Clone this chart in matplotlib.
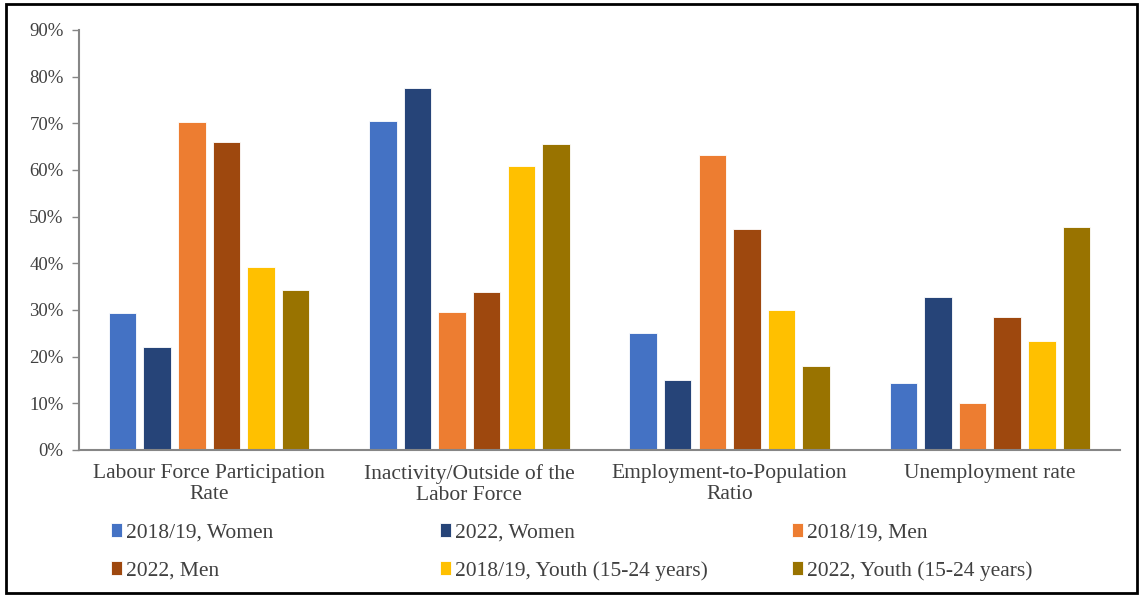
import numpy as np
import matplotlib
matplotlib.use('Agg')
import matplotlib.pyplot as plt
from matplotlib.patches import Rectangle
from matplotlib.ticker import PercentFormatter

categories = ['Labour Force Participation\nRate', 'Inactivity/Outside of the\nLabor Force',
              'Employment-to-Population\nRatio', 'Unemployment rate']
series_names = ['2018/19, Women', '2022, Women', '2018/19, Men',
                '2022, Men', '2018/19, Youth (15-24 years)', '2022, Youth (15-24 years)']
women_1819 = [29.3, 70.6, 25.1, 14.3]
women_2022 = [22.1, 77.6, 15.0, 32.7]
men_1819 = [70.2, 29.6, 63.3, 10.1]
men_2022 = [66.1, 33.9, 47.3, 28.4]
youth_1819 = [39.2, 60.8, 30.0, 23.3]
youth_2022 = [34.3, 65.5, 17.9, 47.8]
colors = ['#4472C4', '#264478', '#ED7D31', '#9E480E', '#FFC000', '#997300']

plt.rcParams['font.family'] = ['Liberation Serif', 'DejaVu Serif']
text_color = '#404040'

fig = plt.figure(figsize=(11.41, 5.97), dpi=100)
ax = fig.add_axes([79 / 1141, 1 - 450 / 597, (1120 - 79) / 1141, 420 / 597])

data = [women_1819, women_2022, men_1819, men_2022, youth_1819, youth_2022]
x = np.arange(len(categories))
pitch = 0.133
width = 0.106
handles = []
for i, vals in enumerate(data):
    b = ax.bar(x + (i - 2.5) * pitch, vals, width, color=colors[i],
               edgecolor='white', linewidth=0.6, label=series_names[i])
    handles.append(b)

ax.set_xlim(-0.5, 3.5)
ax.set_ylim(0, 90)
ax.set_yticks(np.arange(0, 91, 10))
ax.yaxis.set_major_formatter(PercentFormatter(decimals=0))
ax.set_xticks(x)
ax.set_xticklabels(categories, linespacing=1.15)
ax.tick_params(axis='x', length=0, pad=10, labelsize=15.5, colors=text_color)
ax.tick_params(axis='y', length=5, width=1, color='#868686', labelsize=13.5, colors=text_color, pad=6)
for s in ['top', 'right']:
    ax.spines[s].set_visible(False)
for s in ['left', 'bottom']:
    ax.spines[s].set_color('#868686')
    ax.spines[s].set_linewidth(1.5)

# legend in three fixed columns
col_x = [111, 440, 792]
for c in range(3):
    hs = [handles[c], handles[c + 3]]
    leg = fig.legend(hs, [series_names[c], series_names[c + 3]], loc='upper left',
                     bbox_to_anchor=(col_x[c] / 1141, 1 - 523 / 597), frameon=False,
                     fontsize=15.5, handlelength=0.5, handleheight=0.65, handletextpad=0.2,
                     labelspacing=0.85, borderaxespad=0, borderpad=0)
    for t in leg.get_texts():
        t.set_color(text_color)

# outer frame
fig.patches.append(Rectangle((6 / 1141, 4 / 597), 1 - 10 / 1141, 1 - 8 / 597,
                             transform=fig.transFigure, fill=False, edgecolor='black',
                             linewidth=2))

fig.savefig('out.png', dpi=100)
